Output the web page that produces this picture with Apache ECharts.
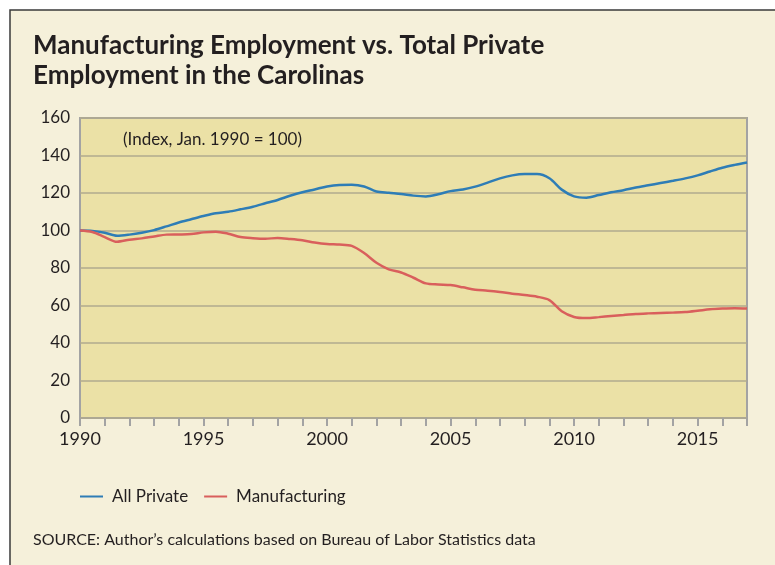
<!DOCTYPE html>
<html>
<head>
<meta charset="utf-8">
<script src="https://cdn.jsdelivr.net/npm/echarts@6/dist/echarts.min.js"></script>
<style>
  html, body { margin: 0; padding: 0; background: #fff; }
  #chart { width: 775px; height: 565px; }
</style>
</head>
<body>
<div id="chart"></div>
<script>
// half-year sample points
const years = [
  1990.0, 1990.5, 1991.0, 1991.5, 1992.0, 1992.5, 1993.0, 1993.5, 1994.0, 1994.5,
  1995.0, 1995.5, 1996.0, 1996.5, 1997.0, 1997.5, 1998.0, 1998.5, 1999.0, 1999.5,
  2000.0, 2000.5, 2001.0, 2001.5, 2002.0, 2002.5, 2003.0, 2003.5, 2004.0, 2004.5,
  2005.0, 2005.5, 2006.0, 2006.5, 2007.0, 2007.5, 2008.0, 2008.5, 2009.0, 2009.5,
  2010.0, 2010.5, 2011.0, 2011.5, 2012.0, 2012.5, 2013.0, 2013.5, 2014.0, 2014.5,
  2015.0, 2015.5, 2016.0, 2016.5, 2017.0
]
const allPrivate = [
  100, 99.8, 98.8, 97.2, 97.8, 98.8, 100.2, 102.2, 104.3, 106.0,
  107.7, 109.2, 110.0, 111.3, 112.7, 114.5, 116.3, 118.5, 120.4, 121.9,
  123.5, 124.3, 124.4, 123.5, 120.8, 120.1, 119.5, 118.6, 118.2, 119.3,
  121.0, 121.9, 123.4, 125.5, 127.8, 129.4, 130.1, 130.1, 127.9, 121.8,
  118.2, 117.5, 118.9, 120.4, 121.5, 122.9, 124.1, 125.3, 126.5, 127.8,
  129.4, 131.5, 133.5, 135.0, 136.3
]
const manufacturing = [
  100, 99.2, 96.5, 94.0, 95.1, 95.8, 96.8, 97.8, 97.9, 98.1,
  99.0, 99.4, 98.3, 96.5, 95.9, 95.6, 96.0, 95.5, 94.8, 93.6,
  92.8, 92.5, 91.8, 88.0, 82.8, 79.3, 77.6, 74.8, 71.8, 71.2,
  70.9, 69.7, 68.4, 67.9, 67.2, 66.3, 65.6, 64.7, 62.9, 56.9,
  53.9, 53.3, 53.8, 54.4, 54.9, 55.5, 55.8, 56.0, 56.2, 56.5,
  57.2, 58.0, 58.4, 58.6, 58.4
]
const yTicks = { min: 0, max: 160, interval: 20 }
const xRange = { min: 1990, max: 2017 }

const font = 'Lato, "Open Sans", sans-serif'
const textColor = '#231f20'

const chart = echarts.init(document.getElementById('chart'))

chart.setOption({
  backgroundColor: '#ffffff',
  animation: false,
  graphic: [
    {
      type: 'rect',
      z: -10,
      shape: { x: 10, y: 10, width: 800, height: 600 },
      style: { fill: '#f5f0da', stroke: '#3a3a3a', lineWidth: 1.5 },
    },
    {
      type: 'text',
      left: 123,
      top: 131,
      z: 10,
      style: {
        text: '(Index, Jan. 1990 = 100)',
        font: '17px ' + font,
        fill: textColor,
      },
    },
    {
      type: 'text',
      left: 33,
      top: 532,
      style: {
        text: 'SOURCE: Author\u2019s calculations based on Bureau of Labor Statistics data',
        font: '16px ' + font,
        fill: textColor,
      },
    },
  ],
  title: {
    text: 'Manufacturing Employment vs. Total Private\nEmployment in the Carolinas',
    left: 28,
    top: 26,
    textStyle: {
      fontFamily: font,
      fontWeight: 'bold',
      fontSize: 26,
      lineHeight: 30,
      color: textColor,
    },
  },
  legend: {
    left: 75,
    top: 483,
    icon: 'rect',
    itemWidth: 23,
    itemHeight: 2,
    itemGap: 16,
    textStyle: { fontFamily: font, fontSize: 17, color: textColor, padding: [0, 0, 0, 4] },
    data: ['All Private', 'Manufacturing'],
  },
  grid: {
    left: 80,
    top: 118,
    width: 667,
    height: 300,
    show: true,
    backgroundColor: '#ebe1a6',
    borderColor: '#a3a3a3',
    borderWidth: 2,
  },
  xAxis: {
    type: 'value',
    min: xRange.min,
    max: xRange.max,
    interval: 1,
    axisLine: { show: false },
    axisTick: { show: true, length: 8, lineStyle: { color: '#a3a3a3', width: 2 } },
    axisLabel: {
      fontFamily: font,
      fontSize: 18,
      color: textColor,
      margin: 12,
      formatter: v => (v % 5 === 0 ? String(v) : ''),
    },
    splitLine: { show: false },
  },
  yAxis: {
    type: 'value',
    min: yTicks.min,
    max: yTicks.max,
    interval: yTicks.interval,
    axisLine: { show: false },
    axisTick: { show: false },
    axisLabel: { fontFamily: font, fontSize: 17, color: textColor, margin: 10 },
    splitLine: { lineStyle: { color: '#b0aa8e', width: 1.5 } },
  },
  series: [
    {
      name: 'All Private',
      type: 'line',
      data: years.map((y, i) => [y, allPrivate[i]]),
      showSymbol: false,
      smooth: 0.3,
      lineStyle: { width: 2.5, color: '#2e7db6' },
      itemStyle: { color: '#2e7db6' },
    },
    {
      name: 'Manufacturing',
      type: 'line',
      data: years.map((y, i) => [y, manufacturing[i]]),
      showSymbol: false,
      smooth: 0.3,
      lineStyle: { width: 2.5, color: '#d95f5c' },
      itemStyle: { color: '#d95f5c' },
    },
  ],
})
</script>
</body>
</html>
